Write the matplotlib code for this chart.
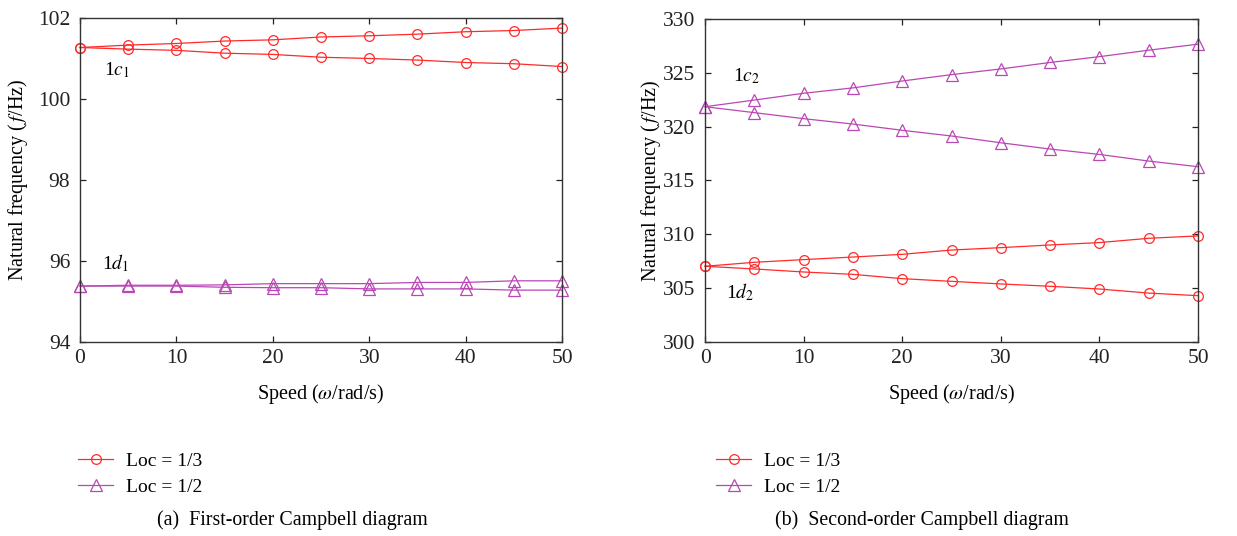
import matplotlib
matplotlib.use('Agg')
import matplotlib.pyplot as plt

plt.rcParams['font.family'] = ['Liberation Serif', 'DejaVu Serif']
plt.rcParams['mathtext.fontset'] = 'stix'

RED = '#ff2a2a'
MAG = '#b947b5'

speed = [0, 5, 10, 15, 20, 25, 30, 35, 40, 45, 50]

# first order (a)
c1_up = [101.27, 101.33, 101.37, 101.43, 101.46, 101.53, 101.56, 101.60, 101.66, 101.69, 101.75]
c1_dn = [101.27, 101.23, 101.20, 101.13, 101.10, 101.03, 101.00, 100.96, 100.90, 100.87, 100.80]
d1_up = [95.38, 95.40, 95.40, 95.41, 95.44, 95.44, 95.44, 95.47, 95.47, 95.51, 95.51]
d1_dn = [95.38, 95.38, 95.38, 95.35, 95.34, 95.34, 95.31, 95.31, 95.31, 95.28, 95.28]

# second order (b)
c2_up = [321.85, 322.47, 323.10, 323.60, 324.24, 324.83, 325.36, 325.96, 326.50, 327.10, 327.66]
c2_dn = [321.85, 321.30, 320.74, 320.24, 319.66, 319.13, 318.50, 317.92, 317.42, 316.80, 316.28]
d2_up = [307.03, 307.40, 307.65, 307.89, 308.14, 308.54, 308.76, 309.01, 309.23, 309.63, 309.85]
d2_dn = [307.03, 306.78, 306.50, 306.28, 305.88, 305.63, 305.39, 305.17, 304.92, 304.54, 304.30]

labels = ['Loc = 1/3', 'Loc = 1/2']
captions = ['(a)  First-order Campbell diagram', '(b)  Second-order Campbell diagram']

fig = plt.figure(figsize=(12.37, 5.36), dpi=100)
ax1 = fig.add_axes([0.0647, 0.362, 0.3897, 0.6045])
ax2 = fig.add_axes([0.570, 0.362, 0.3985, 0.6026])

circ = dict(color=RED, marker='o', ms=7, mfc='none', mew=0.9, lw=0.9, clip_on=False)
tri = dict(color=MAG, marker='^', ms=8, mfc='none', mew=0.9, lw=0.9, clip_on=False)

# --- panel (a)
h1, = ax1.plot(speed, c1_up, **circ)
ax1.plot(speed, c1_dn, **circ)
h2, = ax1.plot(speed, d1_up, **tri)
ax1.plot(speed, d1_dn, **tri)
ax1.set_ylim(94, 102)
ax1.set_yticks([94, 96, 98, 100, 102])
ax1.text(2.5, 100.72, '1$c_1$', fontsize=14, va='center')
ax1.text(2.3, 95.95, '1$d_1$', fontsize=14, va='center')

# --- panel (b)
ax2.plot(speed, d2_up, **circ)
ax2.plot(speed, d2_dn, **circ)
ax2.plot(speed, c2_up, **tri)
ax2.plot(speed, c2_dn, **tri)
ax2.set_ylim(300, 330)
ax2.set_yticks(range(300, 331, 5))
ax2.text(2.8, 324.7, '1$c_2$', fontsize=14, va='center')
ax2.text(2.1, 304.6, '1$d_2$', fontsize=14, va='center')

for ax, cap, lx, cx, ylp in [(ax1, captions[0], 78, 292, 6), (ax2, captions[1], 716, 922, 0)]:
    ax.set_xlim(0, 50)
    ax.set_xticks(range(0, 51, 10))
    ax.tick_params(direction='in', top=True, right=True, labelsize=15.5, length=4, width=0.9,
                   colors='#222222', pad=5)
    ax.tick_params(axis='y', pad=7)
    for s in ax.spines.values():
        s.set_linewidth(1.0)
        s.set_color('#333333')
    ax.set_xlabel(r'Speed ($\omega$/rad/s)', fontsize=14.5, labelpad=10)
    ax.set_ylabel(r'Natural frequency ($\,f$/Hz)', fontsize=14.5, labelpad=ylp)
    fig.legend([h1, h2], labels, loc='center left', bbox_to_anchor=(lx / 1237, 1 - 474 / 536),
               frameon=False, fontsize=14, handlelength=1.8, handletextpad=0.65,
               labelspacing=0.4, borderpad=0, borderaxespad=0)
    fig.text(cx / 1237, 1 - 520 / 536, cap, ha='center', va='center', fontsize=14.3)

fig.savefig('out.png', dpi=100)
